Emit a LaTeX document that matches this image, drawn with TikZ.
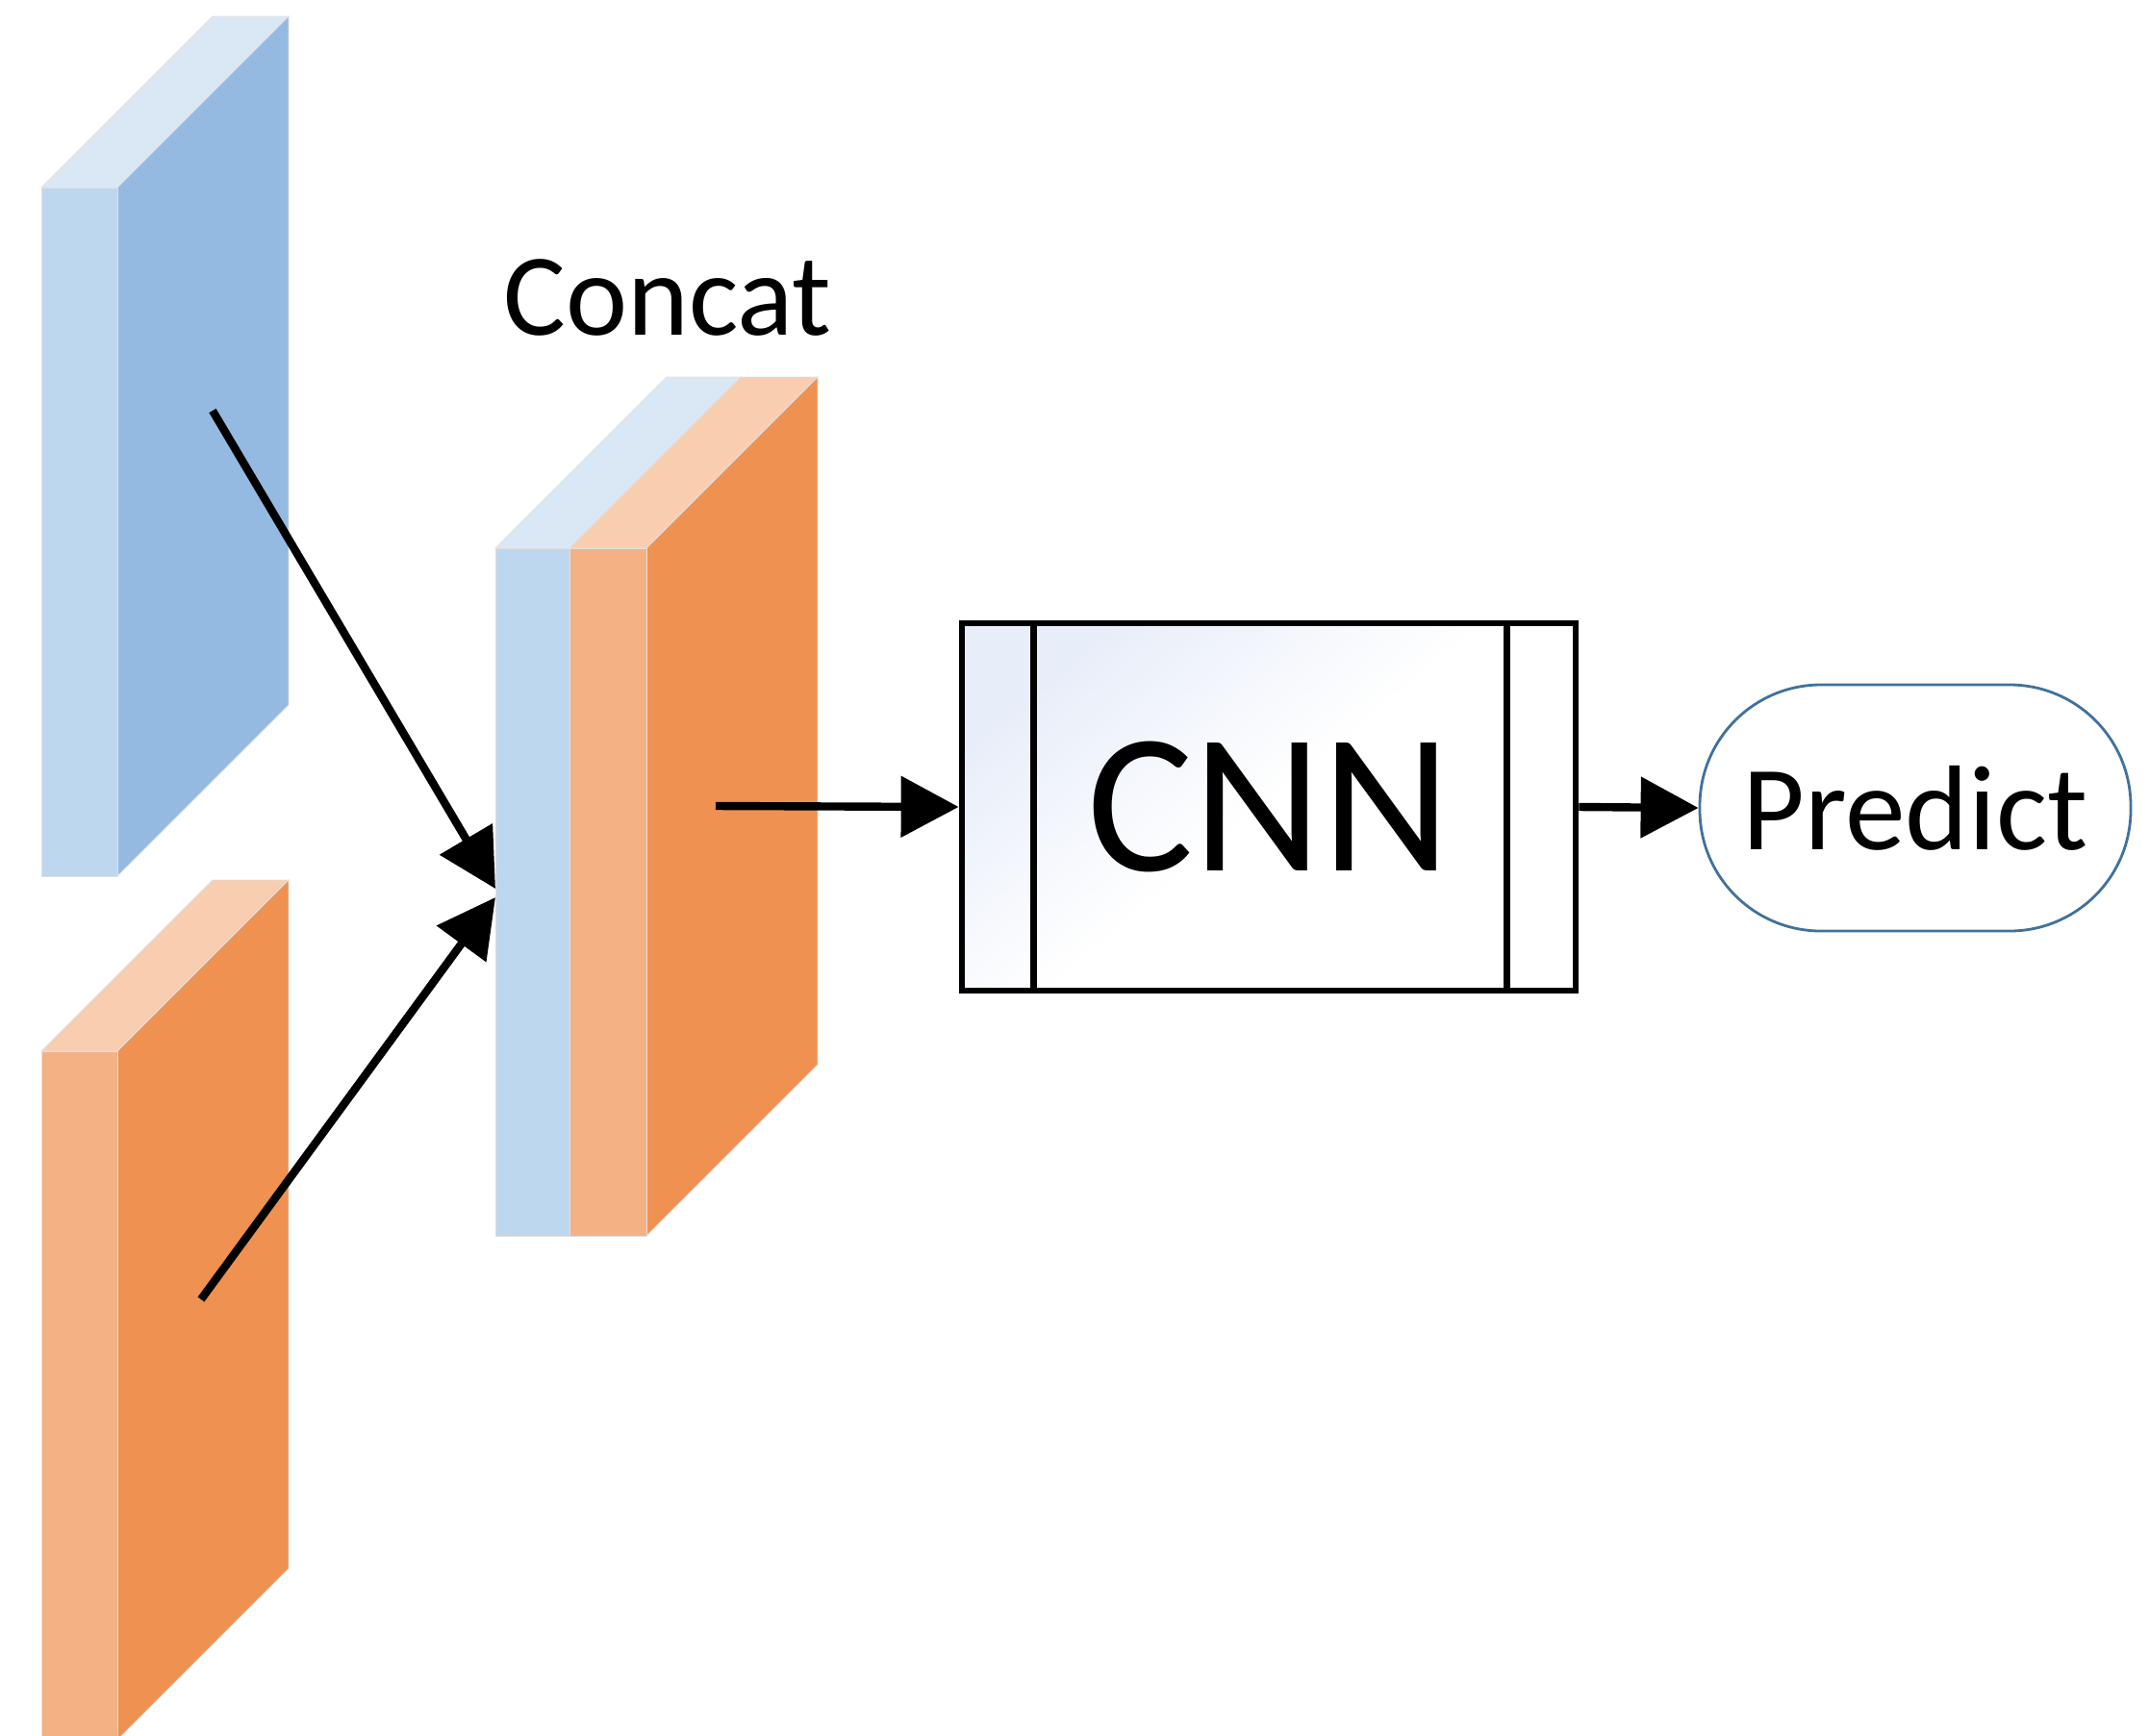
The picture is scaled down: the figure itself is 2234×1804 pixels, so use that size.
\documentclass[tikz,border=0pt]{standalone}
\usepackage{fontspec}
\setmainfont{Carlito}
\usetikzlibrary{arrows.meta}
\definecolor{bfront}{RGB}{189,215,238}
\definecolor{bside}{RGB}{148,186,226}
\definecolor{btop}{RGB}{218,232,246}
\definecolor{ofront}{RGB}{244,177,131}
\definecolor{oside}{RGB}{239,145,80}
\definecolor{otop}{RGB}{248,205,176}
\definecolor{cnnbg}{RGB}{232,238,249}
\definecolor{predborder}{RGB}{65,113,156}
\newcommand\featbox[8]{%
  \fill[#8,faceedge] (#1,#2) -- ++(#3,0) -- ++(#5,-#5) -- ++(-#3,0) -- cycle;
  \fill[#7,faceedge] (#1+#3,#2) -- ++(#5,-#5) -- ++(0,#4) -- ++(-#5,#5) -- cycle;
  \fill[#6,faceedge] (#1,#2) rectangle ++(#3,#4);
}
\tikzset{
  faceedge/.style={draw=black!12, line width=0.4bp},
  conn/.style={line width=4.2bp, -{Triangle[length=30bp,width=31bp]}},
  lbl/.style={font=\fontsize{61}{70}\selectfont, inner sep=0pt},
}
\begin{document}
\begin{tikzpicture}[x={(0.5bp,0)}, y={(0,-0.5bp)}]
\useasboundingbox (0,0) rectangle (2234,1804);
\clip (0,0) rectangle (2234,1804);
% input feature maps
\featbox{43}{195}{79}{716}{178}{bfront}{bside}{btop}
\featbox{43}{1093}{79}{716}{178}{ofront}{oside}{otop}
% concatenated feature map
\featbox{515}{570}{77}{715}{178}{bfront}{bside}{btop}
\featbox{592}{570}{80}{715}{178}{ofront}{oside}{otop}
\node[lbl] (concatlbl) at (694,309) {Concat};
% connector end points
\coordinate (bluesrc) at (221,427);
\coordinate (orangesrc) at (209,1351);
\coordinate (cin1) at (515,924);
\coordinate (cin2) at (515,933);
\coordinate (concatsrc) at (744,838);
% CNN block
\node[draw, line width=3.4bp, minimum width=319bp, minimum height=191bp,
      inner sep=0pt, top color=cnnbg, bottom color=white, middle color=white, shading angle=40,
      font=\fontsize{104}{110}\selectfont] (cnn) at (1319,839) {CNN};
\draw[line width=3.4bp] ([xshift=39bp]cnn.north west) -- ([xshift=39bp]cnn.south west);
\draw[line width=3.4bp] ([xshift=-37.5bp]cnn.north east) -- ([xshift=-37.5bp]cnn.south east);
% Predict
\node[draw=predborder, line width=1.4bp, fill=white, rounded corners=63bp,
      minimum width=224bp, minimum height=128bp, inner sep=0pt,
      font=\fontsize{63}{70}\selectfont] (pred) at (1991,840) {Predict};
% connectors
\draw[conn] (bluesrc) -- (cin1);
\draw[conn] (orangesrc) -- (cin2);
\draw[conn] (concatsrc) -- (cnn.west);
\draw[conn] (cnn.east) -- (pred.west);
\end{tikzpicture}
\end{document}
